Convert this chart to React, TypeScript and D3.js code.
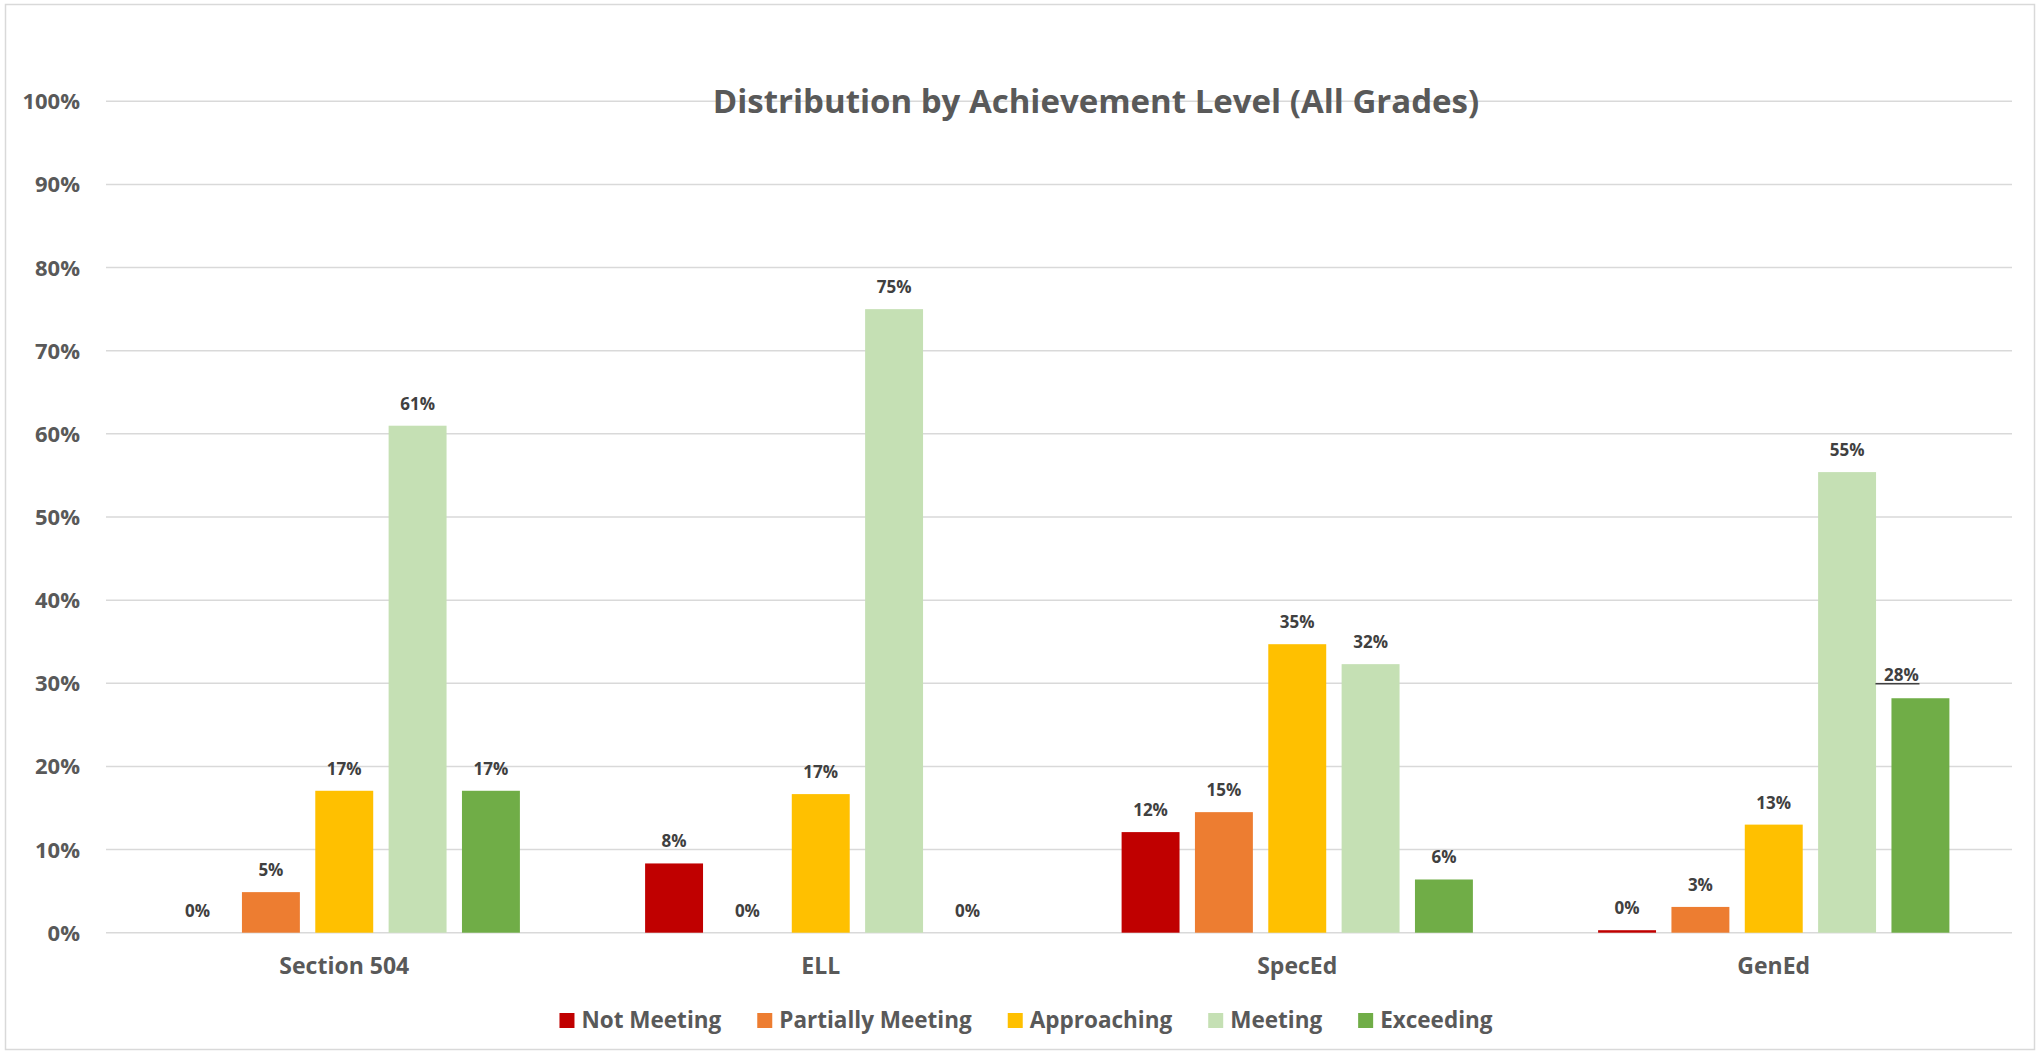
import React from "react";
import * as d3 from "d3";

const categories = ["Section 504", "ELL", "SpecEd", "GenEd"];
const levels = ["Not Meeting", "Partially Meeting", "Approaching", "Meeting", "Exceeding"];
const levelColors = ["#C00000", "#ED7D31", "#FFC000", "#C5E0B4", "#70AD47"];
// percent of students per level, one array per category
const section504 = [0, 4.88, 17.07, 60.98, 17.07];
const ell = [8.33, 0, 16.67, 75, 0];
const specEd = [12.1, 14.5, 34.7, 32.3, 6.4];
const genEd = [0.3, 3.1, 13.0, 55.4, 28.2];
const yTicks = [0, 10, 20, 30, 40, 50, 60, 70, 80, 90, 100];
const title = "Distribution by Achievement Level (All Grades)";

const W = 2036;
const H = 1053;
const FONT = "'Open Sans', 'DejaVu Sans', sans-serif";

function drawChart(svgEl: SVGSVGElement) {
  const svg = d3.select(svgEl);
  svg.selectAll("*").remove();
  svg.attr("width", W).attr("height", H);

  const seriesByCat = [section504, ell, specEd, genEd];
  const left = 106, right = 2012, top = 101.3, bottom = 932.7;

  // outer frame
  svg.append("rect")
    .attr("x", 5.5).attr("y", 4.5)
    .attr("width", 2029).attr("height", 1045)
    .attr("fill", "#fff")
    .attr("stroke", "#D9D9D9")
    .attr("stroke-width", 1.5);

  const y = d3.scaleLinear().domain([0, 100]).range([bottom, top]);
  const x0 = d3.scaleBand<string>().domain(categories).range([left, right]);
  const x1 = d3.scaleBand<string>()
    .domain(levels)
    .range([62.6, x0.bandwidth() - 62.6])
    .paddingInner(0.21);

  // gridlines
  svg.append("g")
    .selectAll("line")
    .data(yTicks)
    .join("line")
    .attr("x1", left).attr("x2", right)
    .attr("y1", d => y(d)).attr("y2", d => y(d))
    .attr("stroke", "#D9D9D9")
    .attr("stroke-width", 1.5);

  // y tick labels
  svg.append("g")
    .selectAll("text")
    .data(yTicks)
    .join("text")
    .attr("x", 80)
    .attr("y", d => y(d) + 8)
    .attr("text-anchor", "end")
    .attr("font-family", FONT)
    .attr("font-weight", 700)
    .attr("font-size", 22)
    .attr("fill", "#595959")
    .text(d => d + "%");

  // title
  svg.append("text")
    .attr("x", 1096)
    .attr("y", 113)
    .attr("text-anchor", "middle")
    .attr("font-family", FONT)
    .attr("font-weight", 700)
    .attr("font-size", 33)
    .attr("fill", "#595959")
    .text(title);

  // bars
  const groups = svg.append("g")
    .selectAll("g")
    .data(categories)
    .join("g")
    .attr("transform", d => `translate(${x0(d)},0)`);

  const cells = groups.selectAll("g")
    .data((c, ci) => levels.map((l, li) => ({ level: l, li, ci, value: seriesByCat[ci][li] })))
    .join("g");

  cells.append("rect")
    .attr("x", d => x1(d.level)!)
    .attr("y", d => y(d.value))
    .attr("width", x1.bandwidth())
    .attr("height", d => bottom - y(d.value))
    .attr("fill", d => levelColors[d.li]);

  // data labels
  cells.append("text")
    .attr("x", d => {
      const cx = x1(d.level)! + x1.bandwidth() / 2;
      // GenEd / Exceeding label was dragged left in the original
      return d.ci === 3 && d.li === 4 ? cx - 19 : cx;
    })
    .attr("y", d => (d.ci === 3 && d.li === 4 ? y(d.value) - 17 : y(d.value) - 16))
    .attr("text-anchor", "middle")
    .attr("font-family", FONT)
    .attr("font-weight", 700)
    .attr("font-size", 17)
    .attr("fill", "#404040")
    .text(d => Math.round(d.value) + "%");

  // leader line under the moved label
  const gx = x0(categories[3])! + x1(levels[4])!;
  svg.append("line")
    .attr("x1", gx - 16).attr("x2", gx + 28)
    .attr("y1", y(genEd[4]) - 14.5).attr("y2", y(genEd[4]) - 14.5)
    .attr("stroke", "#404040")
    .attr("stroke-width", 1.5);

  // category labels
  svg.append("g")
    .selectAll("text")
    .data(categories)
    .join("text")
    .attr("x", d => x0(d)! + x0.bandwidth() / 2)
    .attr("y", 974)
    .attr("text-anchor", "middle")
    .attr("font-family", FONT)
    .attr("font-weight", 700)
    .attr("font-size", 23)
    .attr("fill", "#595959")
    .text(d => d);

  // legend
  const legend = svg.append("g");
  const items = legend.selectAll("g")
    .data(levels)
    .join("g");
  items.append("rect")
    .attr("y", 1013)
    .attr("width", 15)
    .attr("height", 15)
    .attr("fill", (d, i) => levelColors[i]);
  const labels = items.append("text")
    .attr("x", 22)
    .attr("y", 1028)
    .attr("font-family", FONT)
    .attr("font-weight", 700)
    .attr("font-size", 22.5)
    .attr("fill", "#595959")
    .text(d => d);

  const widths: number[] = [];
  labels.each(function () {
    widths.push((this as SVGTextElement).getComputedTextLength());
  });
  const gap = 36;
  const total = d3.sum(widths) + widths.length * 22 + (widths.length - 1) * gap;
  let cursor = 1026 - total / 2;
  items.attr("transform", (d, i) => {
    const t = `translate(${cursor},0)`;
    cursor += 22 + widths[i] + gap;
    return t;
  });
}

const App = () => {
  const ref = React.useRef<SVGSVGElement>(null);

  React.useEffect(() => {
    if (ref.current) drawChart(ref.current);
  }, []);

  return (
    <svg ref={ref} style={{ position: "absolute", left: 0, top: 0, display: "block" }} />
  );
};

export default App;
